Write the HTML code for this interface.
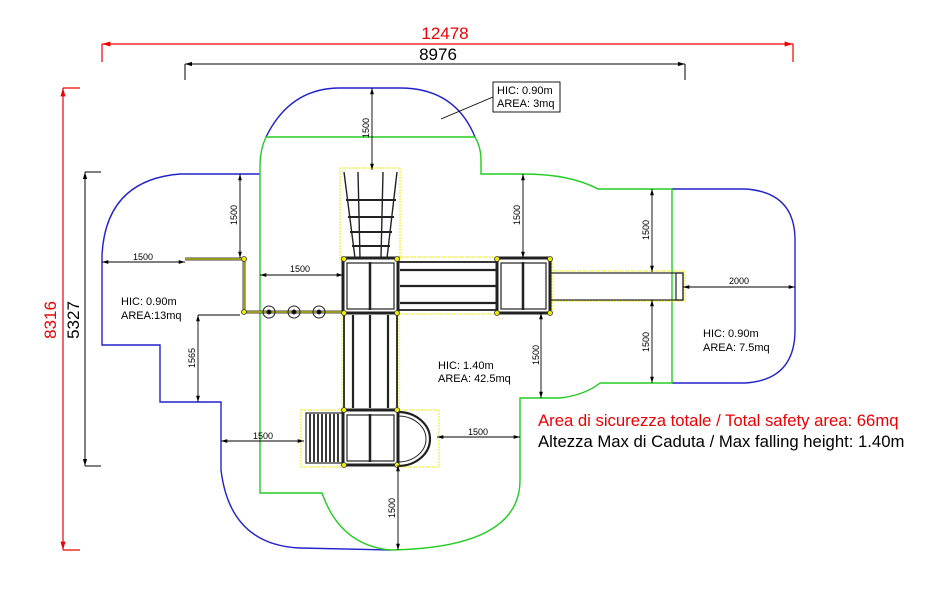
<!DOCTYPE html>
<html><head><meta charset="utf-8"><style>html,body{margin:0;padding:0;background:#fff}svg{display:block}</style></head>
<body>
<svg width="940" height="599" viewBox="0 0 940 599" xmlns="http://www.w3.org/2000/svg" font-family="Liberation Sans, sans-serif">
<defs>
<marker id="a" viewBox="0 0 10 10" refX="10" refY="5" markerWidth="7" markerHeight="7" orient="auto-start-reverse"><path d="M0,2L10,5L0,8z" fill="#000"/></marker>
<marker id="r" viewBox="0 0 10 10" refX="10" refY="5" markerWidth="7" markerHeight="7" orient="auto-start-reverse"><path d="M0,2L10,5L0,8z" fill="#e00"/></marker>
</defs>
<g stroke="#e00" stroke-width="1.2" fill="none">
<line x1="102" y1="44" x2="793" y2="44" marker-start="url(#r)" marker-end="url(#r)"/>
<line x1="102" y1="44" x2="102" y2="62"/><line x1="793" y1="44" x2="793" y2="62"/>
<line x1="63" y1="88" x2="63" y2="550" marker-start="url(#r)" marker-end="url(#r)"/>
<line x1="63" y1="88" x2="80" y2="88"/><line x1="63" y1="550" x2="80" y2="550"/>
</g>
<g stroke="#000" stroke-width="1" fill="none">
<line x1="185" y1="64" x2="685" y2="64" marker-start="url(#a)" marker-end="url(#a)"/>
<line x1="185" y1="64" x2="185" y2="80"/><line x1="685" y1="64" x2="685" y2="80"/>
<line x1="85" y1="172" x2="85" y2="466" marker-start="url(#a)" marker-end="url(#a)"/>
<line x1="85" y1="172" x2="101" y2="172"/><line x1="85" y1="466" x2="101" y2="466"/>
</g>
<text x="445" y="39" font-size="17" fill="#e00" text-anchor="middle">12478</text>
<text x="438" y="60" font-size="17" fill="#000" text-anchor="middle">8976</text>
<text transform="translate(56,320) rotate(-90)" font-size="17" fill="#e00" text-anchor="middle">8316</text>
<text transform="translate(79,320) rotate(-90)" font-size="17" fill="#000" text-anchor="middle">5327</text>

<g stroke="#2222cc" stroke-width="1.4" fill="none">
<path d="M266,137 Q290,88 340,88 L400,88 Q455,88 475,137"/>
<path d="M260,174 L180,174 Q106,180 102,255 L102,345 L160,345 L160,402 L221,402 L221,470 Q230,545 300,548 L390,550"/>
<path d="M672,189 L745,189 Q795,192 795,240 L795,330 Q795,380 745,383 L672,383"/>
</g>
<g stroke="#22cc22" stroke-width="1.4" fill="none">
<path d="M266,137 L475,137"/>
<path d="M266,137 Q260,150 260,165 L260,493 L322,493 Q340,545 390,550 Q520,548 520,480 L520,398 L560,398 Q585,395 600,383 L672,383 L672,189 L598,189 Q570,174 523,174 L481,174 L481,160 Q481,147 475,137"/>
</g>

<g stroke="#ee0" stroke-width="1" stroke-dasharray="2,1" fill="none">
<rect x="340" y="168" width="60" height="92"/>
<rect x="301" y="410" width="44" height="57"/>
<rect x="397" y="410" width="42" height="57"/>
<rect x="550" y="271" width="135" height="30"/>
<rect x="342" y="257" width="210" height="57"/>
<rect x="342" y="312" width="57" height="100"/>
</g>
<g stroke="#222" fill="none">
<path d="M344,172 L355,258 M397,172 L387,258 M358,172 L360,258 M383,172 L381,258" stroke-width="1.4"/>
<path d="M346,200 L396,200 M348,217 L394,217 M350,232 L392,232 M352,246 L390,246" stroke-width="2"/>
<rect x="343" y="258" width="55" height="55" stroke-width="3" fill="#fff"/>
<rect x="347" y="263" width="47" height="46" stroke-width="1.2"/>
<line x1="370" y1="262" x2="370" y2="310" stroke-width="2.5"/>
<rect x="398" y="262" width="100" height="48" stroke-width="1.8"/>
<path d="M400,270 H496 M400,286 H496 M400,303 H496" stroke-width="2.2"/>
<rect x="497" y="258" width="53" height="55" stroke-width="3" fill="#fff"/>
<rect x="501" y="263" width="45" height="46" stroke-width="1.2"/>
<line x1="523" y1="262" x2="523" y2="310" stroke-width="2.5"/>
<rect x="550" y="273" width="133" height="27" stroke-width="1.2"/>
<rect x="676" y="273" width="7" height="27" stroke-width="1.2"/>
<rect x="344" y="313" width="53" height="97" stroke-width="1.8"/>
<path d="M353,315 V408 M370,315 V408 M388,315 V408" stroke-width="2.2"/>
<rect x="343" y="410" width="55" height="55" stroke-width="3" fill="#fff"/>
<rect x="347" y="415" width="47" height="46" stroke-width="1.2"/>
<line x1="370" y1="414" x2="370" y2="462" stroke-width="2.5"/>
<rect x="306" y="413" width="37" height="50" stroke-width="1.2"/>
<path d="M310,414V462 M314,414V462 M318,414V462 M322,414V462 M326,414V462 M330,414V462 M334,414V462 M338,414V462" stroke-width="1.8"/>
<path d="M398,412 A32,27 0 0 1 398,466" stroke-width="2.2"/>
<path d="M398,416 A28,23 0 0 1 398,462" stroke-width="1"/>
<path d="M185,259 H244 V312 H343" stroke-width="3" stroke="#444"/>
<path d="M185,259 H244 V312 H343" stroke-width="1" stroke="#ee0"/>
<circle cx="269" cy="312" r="6" stroke-width="1"/><circle cx="294" cy="312" r="6" stroke-width="1"/><circle cx="319" cy="312" r="6" stroke-width="1"/>
<circle cx="269" cy="312" r="2" fill="#000"/><circle cx="294" cy="312" r="2" fill="#000"/><circle cx="319" cy="312" r="2" fill="#000"/>
</g>
<g fill="#ee0" stroke="#333" stroke-width="0.8">
<circle cx="344" cy="259" r="2.5"/><circle cx="397" cy="259" r="2.5"/><circle cx="344" cy="313" r="2.5"/><circle cx="397" cy="313" r="2.5"/>
<circle cx="497" cy="259" r="2.5"/><circle cx="550" cy="259" r="2.5"/><circle cx="497" cy="313" r="2.5"/><circle cx="550" cy="313" r="2.5"/>
<circle cx="344" cy="410" r="2.5"/><circle cx="397" cy="410" r="2.5"/><circle cx="344" cy="465" r="2.5"/><circle cx="397" cy="465" r="2.5"/>
<circle cx="244" cy="259" r="2.5"/><circle cx="244" cy="312" r="2.5"/>
</g>

<g stroke="#000" stroke-width="0.9" fill="none">
<line x1="372" y1="88" x2="372" y2="170" marker-start="url(#a)" marker-end="url(#a)"/>
<line x1="240" y1="174" x2="240" y2="258" marker-start="url(#a)" marker-end="url(#a)"/>
<line x1="102" y1="262" x2="185" y2="262" marker-start="url(#a)" marker-end="url(#a)"/>
<line x1="260" y1="275" x2="343" y2="275" marker-start="url(#a)" marker-end="url(#a)"/>
<line x1="198" y1="315" x2="240" y2="315"/>
<line x1="198" y1="315" x2="198" y2="402" marker-start="url(#a)" marker-end="url(#a)"/>
<line x1="221" y1="441" x2="304" y2="441" marker-start="url(#a)" marker-end="url(#a)"/>
<line x1="398" y1="465" x2="398" y2="550" marker-start="url(#a)" marker-end="url(#a)"/>
<line x1="437" y1="437" x2="520" y2="437" marker-start="url(#a)" marker-end="url(#a)"/>
<line x1="523" y1="174" x2="523" y2="258" marker-start="url(#a)" marker-end="url(#a)"/>
<line x1="541" y1="313" x2="541" y2="398" marker-start="url(#a)" marker-end="url(#a)"/>
<line x1="652" y1="189" x2="652" y2="272" marker-start="url(#a)" marker-end="url(#a)"/>
<line x1="652" y1="300" x2="652" y2="383" marker-start="url(#a)" marker-end="url(#a)"/>
<line x1="683" y1="287" x2="795" y2="287" marker-start="url(#a)" marker-end="url(#a)"/>
<line x1="493" y1="97" x2="441" y2="119"/>
</g>
<g font-size="9" fill="#000" text-anchor="middle">
<text transform="translate(369,128) rotate(-90)">1500</text>
<text transform="translate(237,215) rotate(-90)">1500</text>
<text x="143" y="260">1500</text>
<text x="300" y="272">1500</text>
<text transform="translate(195,358) rotate(-90)">1565</text>
<text x="263" y="439">1500</text>
<text transform="translate(395,508) rotate(-90)">1500</text>
<text x="478" y="435">1500</text>
<text transform="translate(520,215) rotate(-90)">1500</text>
<text transform="translate(539,355) rotate(-90)">1500</text>
<text transform="translate(649,230) rotate(-90)">1500</text>
<text transform="translate(649,342) rotate(-90)">1500</text>
<text x="739" y="284">2000</text>
</g>
<rect x="493" y="82" width="67" height="30" fill="#fff" stroke="#000" stroke-width="0.9"/>
<g font-size="11" fill="#000">
<text x="497" y="94">HIC: 0.90m</text><text x="497" y="107">AREA: 3mq</text>
<text x="121" y="305">HIC: 0.90m</text><text x="121" y="319">AREA:13mq</text>
<text x="438" y="369">HIC: 1.40m</text><text x="438" y="382">AREA: 42.5mq</text>
<text x="703" y="337">HIC: 0.90m</text><text x="703" y="351">AREA: 7.5mq</text>
</g>
<text x="538" y="426" font-size="16.7" fill="#e00">Area di sicurezza totale / Total safety area: 66mq</text>
<text x="538" y="447" font-size="16.7" fill="#000">Altezza Max di Caduta / Max falling height: 1.40m</text>
</svg>
</body></html>
